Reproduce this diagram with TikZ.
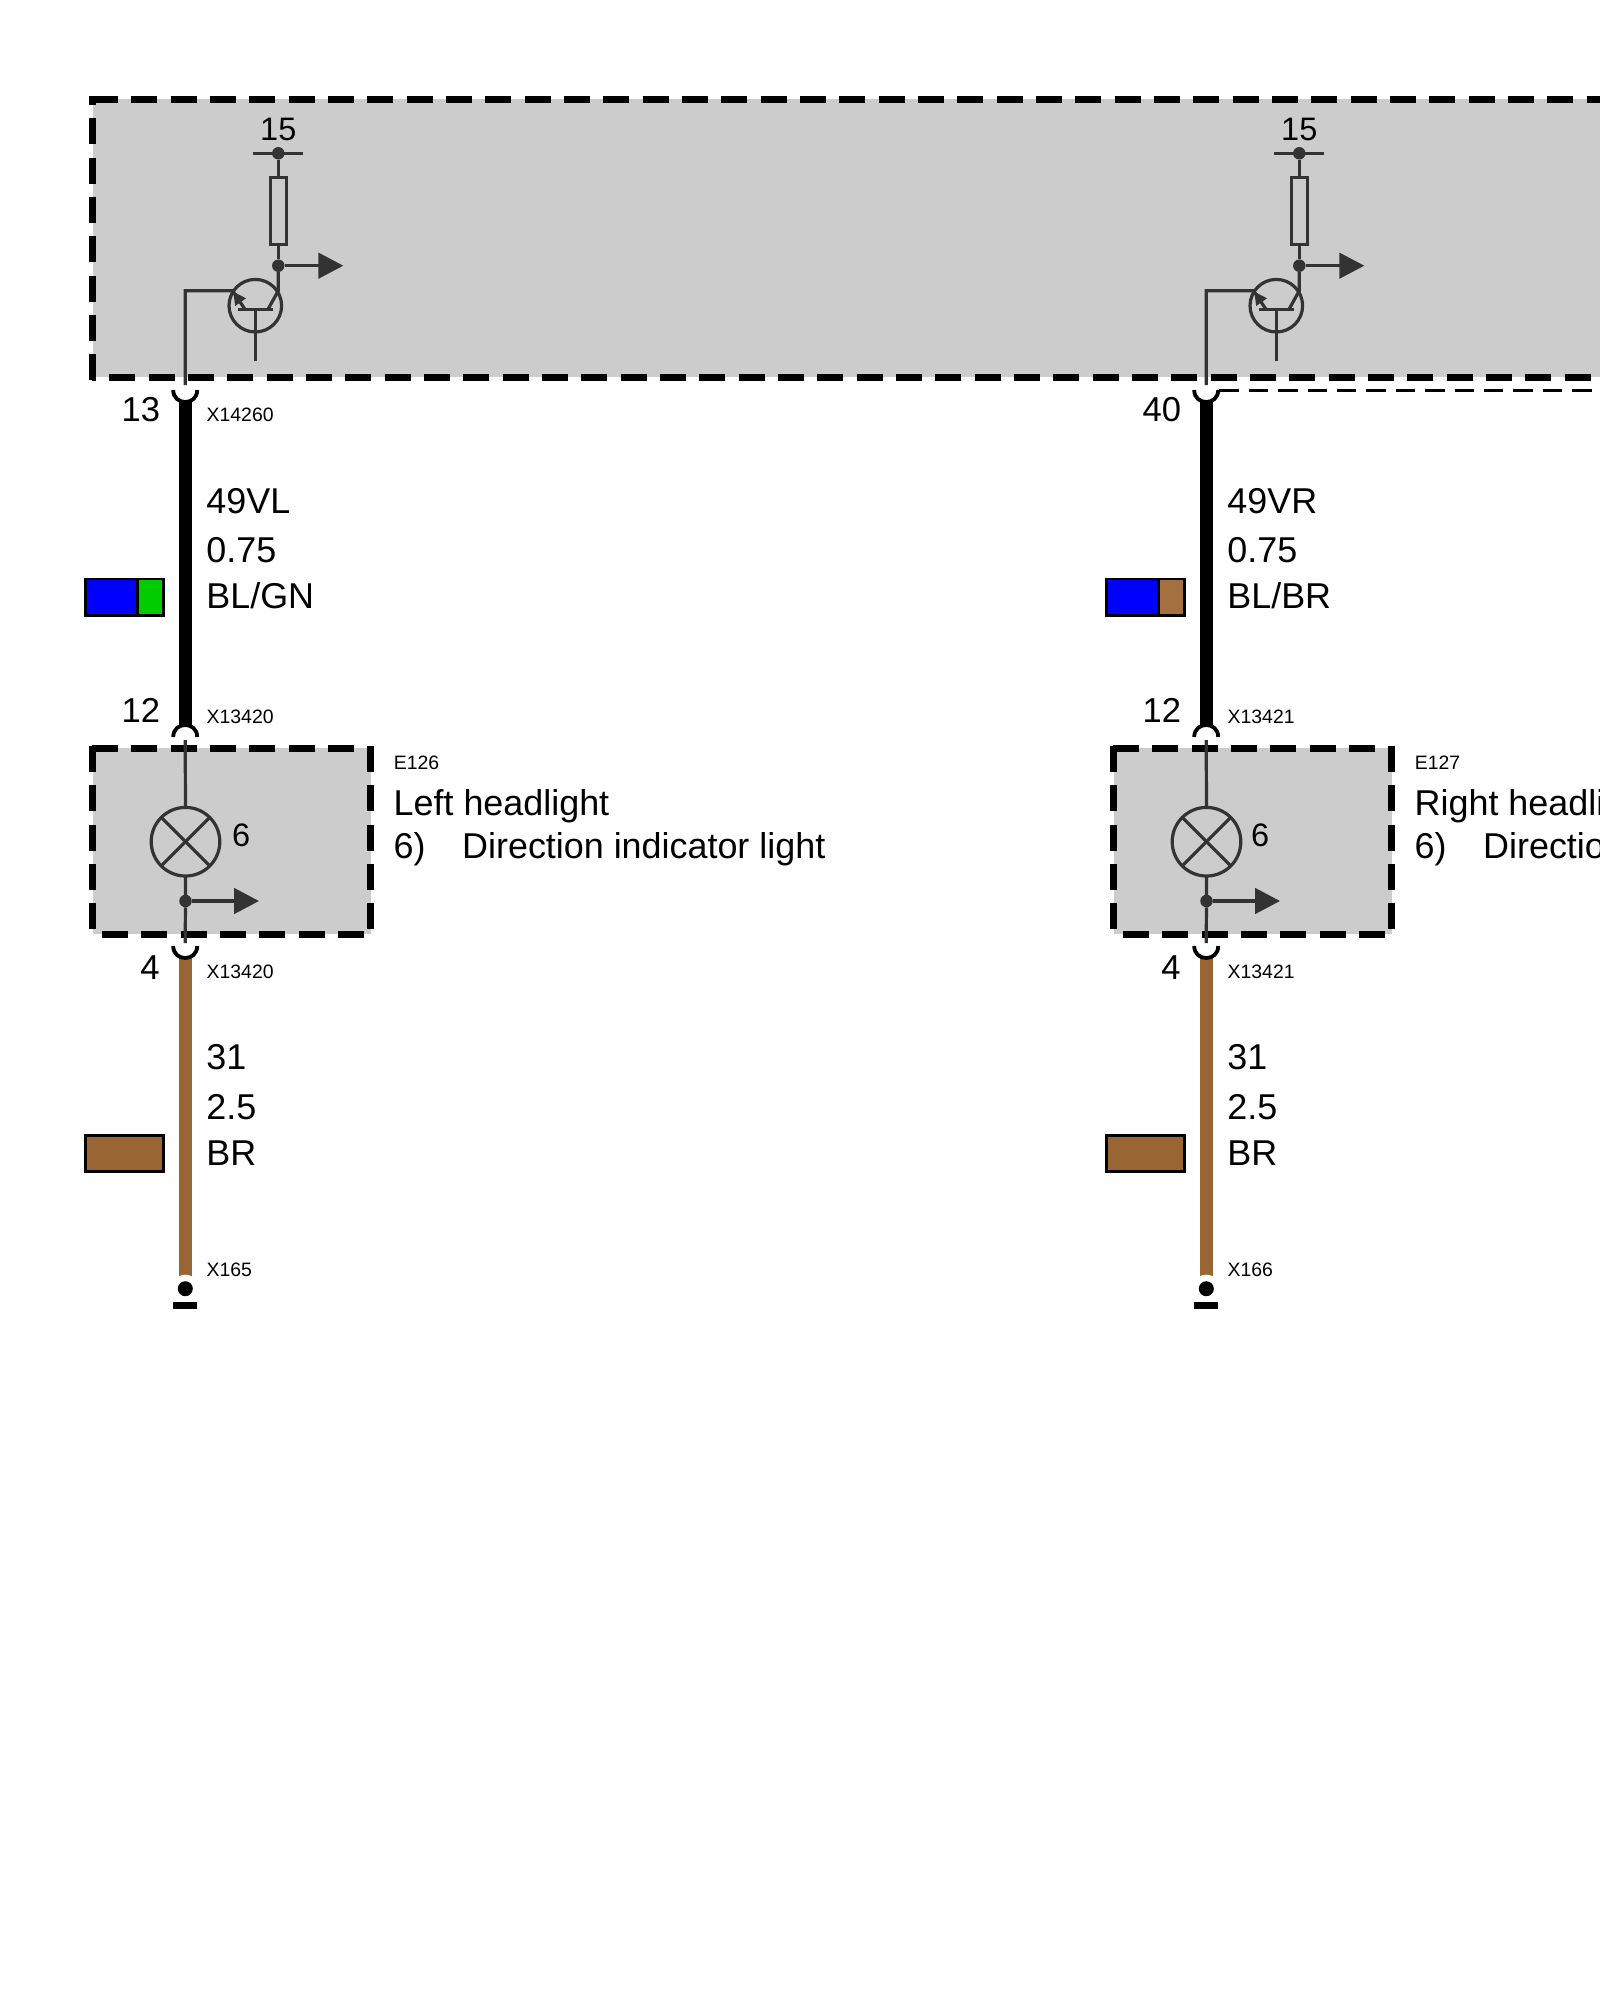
\documentclass[tikz,border=0pt]{standalone}
\usepackage{fontspec}
\setmainfont{Liberation Sans}
\usetikzlibrary{arrows.meta}
\definecolor{symb}{HTML}{333333}
\definecolor{boxgray}{HTML}{CCCCCC}
\definecolor{wirebrown}{HTML}{996633}
\definecolor{swbrown}{HTML}{A5703F}
\definecolor{swgreen}{HTML}{00CC00}
\tikzset{
  bord/.style={line width=7pt,black,dash pattern=on 26pt off 13.33pt},
  sym/.style={line width=3.2pt,symb},
  symdot/.style={circle,fill=symb,inner sep=0pt,outer sep=0pt,minimum size=12.5pt},
  outarrow/.style={sym,-{Triangle[length=25pt,width=25.5pt]}},
  cup/.style={line width=3.8pt,black},
  wireblack/.style={line width=13pt,black},
  wirebr/.style={line width=13pt,wirebrown},
  swatch/.style={line width=2.8pt,black},
  pinlabel/.style={anchor=base east,inner sep=0pt,font=\fontsize{34.6}{34.6}\selectfont},
  bigtext/.style={anchor=base west,inner sep=0pt,font=\fontsize{35.9}{35.9}\selectfont},
  smalltext/.style={anchor=base west,inner sep=0pt,font=\fontsize{19.4}{19.4}\selectfont},
  symtext/.style={inner sep=0pt,font=\fontsize{32.5}{32.5}\selectfont}
}
\begin{document}
\begin{tikzpicture}[x=1pt,y=-1pt]
\useasboundingbox (0,0) rectangle (1600,2000);
\fill[white] (0,0) rectangle (1600,2000);
% large control unit
\fill[boxgray] (93,99) rectangle (1600,377);
\draw[bord] (92,99) -- (1600,99);
\draw[bord,dash phase=17pt] (92,96) -- (92,380);
\draw[bord,dash phase=22pt] (92,377) -- (1600,377);
\coordinate (dashstart) at (1219.3,390.7);
\coordinate (dashend) at (1600,390.7);
\draw[line width=2.9pt,black,dash pattern=on 19.5pt off 9.9pt] (dashstart) -- (dashend);
\foreach \p/\o/\pin/\wn/\cl/\sw/\cb/\e/\t/\g/\sx in {
  a/0/13/49VL/{BL/GN}/swgreen/X13420/E126/Left headlight/X165/232,
  b/1021/40/49VR/{BL/BR}/swbrown/X13421/E127/Right headlight/X166/230}{
\begin{scope}[xshift=\o pt]
  % headlight box
  \fill[boxgray] (93,748) rectangle (371,934);
  \draw[bord] (92,748) -- (354,748);
  \draw[bord] (92,746) -- (92,930);
  \draw[bord] (370,746) -- (370,929.5);
  \draw[bord] (102,934) -- (370,934);
  % transistor stage
  \node[symtext,anchor=base] (\p-t15) at (278.3,140.7) {15};
  \node[symdot] (\p-d15) at (278.3,153.3) {};
  \coordinate (\p-barl) at (253.3,153.3);
  \coordinate (\p-barr) at (303.3,153.3);
  \draw[sym] (\p-barl) -- (\p-barr);
  \node[draw=symb,line width=3.2pt,fill=boxgray,inner sep=0pt,outer sep=0pt,minimum width=15.8pt,minimum height=67.5pt] (\p-res) at (278.3,211) {};
  \node[symdot] (\p-d2) at (278.3,265.7) {};
  \coordinate (\p-out1) at (343.3,265.7);
  \draw[sym] (\p-d15) -- (\p-res.north);
  \draw[sym] (\p-res.south) -- (\p-d2);
  \draw[outarrow] (\p-d2) -- (\p-out1);
  \node[draw=symb,line width=3.2pt,circle,inner sep=0pt,outer sep=0pt,minimum size=52.6pt] (\p-tr) at (255.3,305.7) {};
  \coordinate (\p-bl) at (238.3,309.3);
  \coordinate (\p-br) at (273.3,309.3);
  \coordinate (\p-bm) at (255.3,309.3);
  \coordinate (\p-bd) at (255.3,361);
  \coordinate (\p-coll) at (278.3,290.7);
  \coordinate (\p-cb) at (268,309.3);
  \coordinate (\p-emit) at (232.5,290.7);
  \coordinate (\p-eb) at (245,309.3);
  \coordinate (\p-corner) at (185.2,290.7);
  \coordinate (\p-pin) at (185.2,385);
  \draw[sym] (\p-bl) -- (\p-br);
  \draw[sym] (\p-bm) -- (\p-bd);
  \draw[sym] (\p-d2) -- (\p-coll) -- (\p-cb);
  \draw[sym,line join=miter] (\p-pin) -- (\p-corner) -- (\p-emit) -- (\p-eb);
  \fill[symb] (233.3,291.7) -- (235.2,306) -- (246,298.3) -- cycle;
  % top wire
  \coordinate (\p-w1) at (185.2,400);
  \coordinate (\p-w2) at (185.2,726);
  \draw[wireblack] (\p-w1) -- (\p-w2);
  \draw[cup] (173.2,390) .. controls (173.2,406) and (197.2,406) .. (197.2,390);
  \draw[cup] (173.2,737) .. controls (173.2,721) and (197.2,721) .. (197.2,737);
  \node[pinlabel] (\p-pn) at (160.4,421.7) {\pin};
  \ifnum\o=0 \node[smalltext] (\p-cn) at (206.5,421.7) {X14260};\fi
  \node[bigtext] (\p-wn) at (206.2,513.3) {\wn};
  \node[bigtext] (\p-ws) at (206.2,562.7) {0.75};
  \node[bigtext] (\p-wc) at (206.2,608.3) {\cl};
  \fill[blue] (84,577.7) rectangle (137,616.7);
  \fill[\sw] (137,577.7) rectangle (165,616.7);
  \draw[swatch] (85.3,579) rectangle (163.7,615.4);
  \draw[swatch] (137.3,579) -- (137.3,615.4);
  % lamp
  \node[pinlabel] (\p-p12) at (160.4,722.7) {12};
  \node[smalltext] (\p-c12) at (206.5,723.3) {\cb};
  \coordinate (\p-lt) at (185.2,740);
  \node[draw=symb,line width=3.2pt,circle,inner sep=0pt,outer sep=0pt,minimum size=68.6pt] (\p-lamp) at (185.5,841.7) {};
  \draw[sym] (\p-lt) -- (\p-lamp.north);
  \draw[sym] (\p-lamp.45) -- (\p-lamp.225);
  \draw[sym] (\p-lamp.135) -- (\p-lamp.315);
  \node[symtext,anchor=base west] (\p-six) at (\sx,846.7) {6};
  \node[symdot] (\p-d3) at (185.5,901) {};
  \coordinate (\p-out2) at (259,901);
  \coordinate (\p-lb) at (185.2,943);
  \draw[sym] (\p-lamp.south) -- (\p-d3) -- (\p-lb);
  \draw[outarrow] (\p-d3) -- (\p-out2);
  \node[smalltext] (\p-en) at (393.7,769.3) {\e};
  \node[bigtext] (\p-ht) at (393.5,815) {\t};
  \node[bigtext] (\p-fn) at (393.5,858.3) {6)};
  \node[bigtext] (\p-fd) at (462,858.3) {Direction indicator light};
  % lower wire
  \coordinate (\p-w3) at (185.2,956);
  \coordinate (\p-w4) at (185.2,1277);
  \draw[wirebr] (\p-w3) -- (\p-w4);
  \draw[cup] (173.2,946) .. controls (173.2,962) and (197.2,962) .. (197.2,946);
  \node[pinlabel] (\p-p4) at (159.8,979) {4};
  \node[smalltext] (\p-c4) at (206.5,978.3) {\cb};
  \node[bigtext] (\p-l1) at (206.2,1069.3) {31};
  \node[bigtext] (\p-l2) at (206.2,1119) {2.5};
  \node[bigtext] (\p-l3) at (206.2,1165) {BR};
  \draw[swatch,fill=wirebrown] (85.3,1135.3) rectangle (163.7,1171.4);
  % ground
  \node[smalltext] (\p-gn) at (206.5,1276.7) {\g};
  \fill[white] (185.3,1288.7) circle[radius=14pt];
  \node[circle,fill=black,inner sep=0pt,outer sep=0pt,minimum size=15pt] (\p-gd) at (185.3,1288.7) {};
  \node[fill=black,inner sep=0pt,outer sep=0pt,minimum width=24pt,minimum height=6.4pt] (\p-gb) at (185.3,1305.5) {};
\end{scope}
}
\end{tikzpicture}
\end{document}
